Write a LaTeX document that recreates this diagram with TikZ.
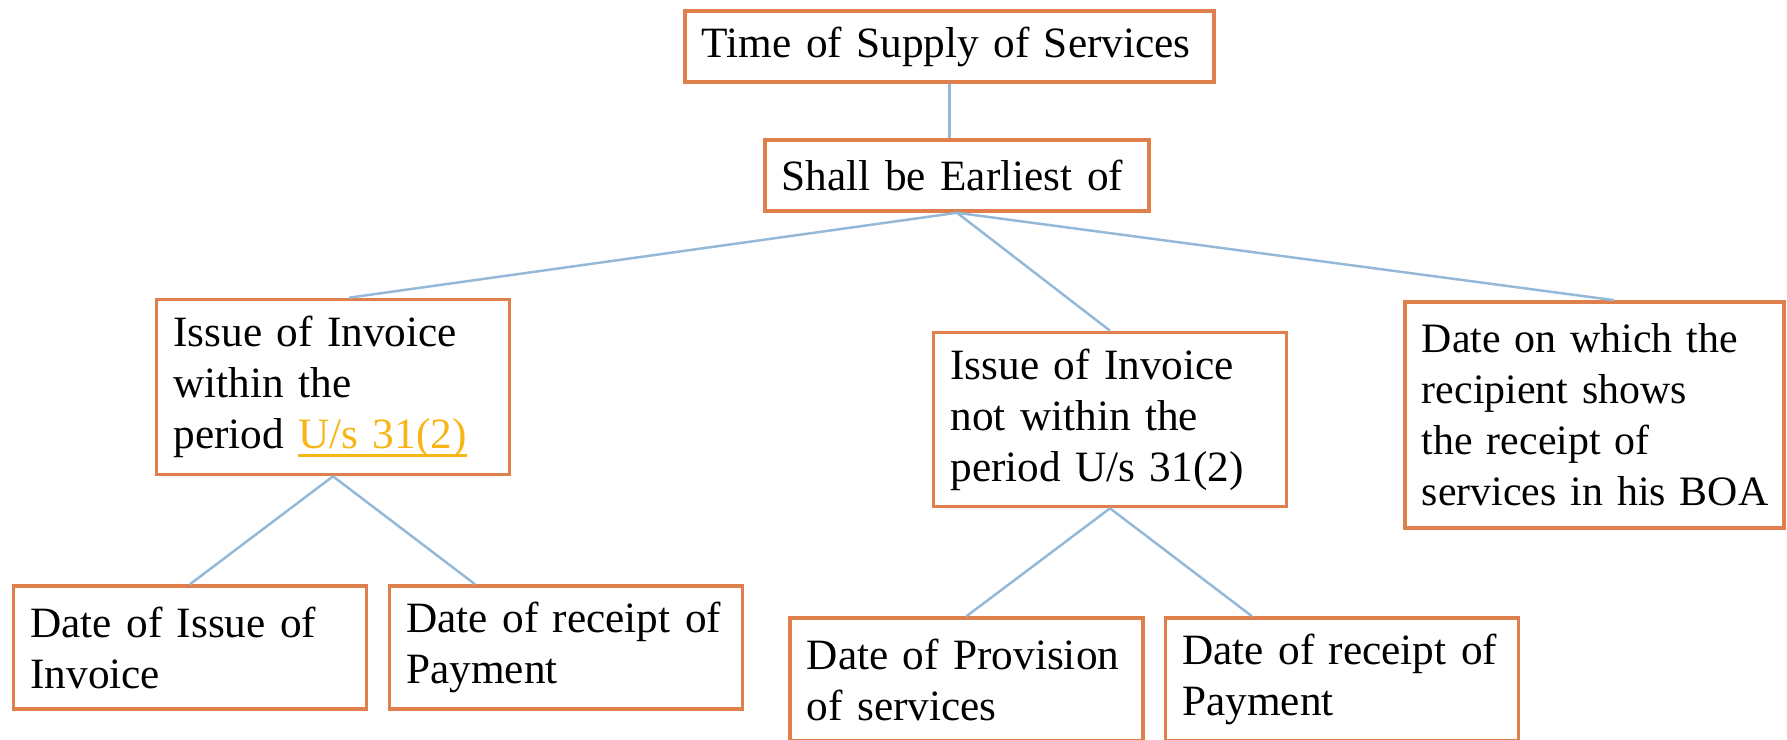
\documentclass[tikz,border=0pt]{standalone}
\usepackage{fontspec}
\setmainfont{Liberation Serif}
\usepackage{tikz}

\definecolor{boxorange}{RGB}{223,128,76}
\definecolor{linkblue}{RGB}{148,184,216}
\definecolor{linkgold}{RGB}{247,181,22}
\newcommand\goldlink[1]{{\color{linkgold}\setbox0\hbox{#1}\rlap{\rule[-2.3pt]{\wd0}{0.9pt}}\box0}}

\begin{document}
\begin{tikzpicture}[
        x=0.01cm, y=-0.01cm,
        box/.style={draw=boxorange, line width=1pt, fill=white, align=left,
            inner xsep=0.17cm, inner ysep=0pt, text width=3.19cm,
            font=\fontsize{12.3}{14.5}\selectfont},
        link/.style={draw=linkblue, line width=0.7pt},
    ]
    \useasboundingbox (0,0) rectangle (1787,739);
    \node[box, text width=4.95cm, minimum height=0.71cm] (supply) at (949.5,46.5) {Time of Supply of Services};
    \node[box, text width=3.50cm, minimum height=0.71cm] (earliest) at (957,175.5) {Shall be Earliest of};
    \node[box, minimum height=1.75cm] (within) at (333,387)
        {Issue of Invoice\\ within the\\ period \goldlink{U/s 31(2)}};
    \node[box, minimum height=1.74cm] (notwithin) at (1110,419.5)
        {Issue of Invoice\\ not within the\\ period U/s 31(2)};
    \node[box, text width=3.45cm, minimum height=2.26cm, font=\fontsize{11.9}{14.5}\selectfont] (boa) at (1594.5,415)
        {Date on which the\\ recipient shows\\ the receipt of\\ \mbox{services in his BOA}};
    \node[box, minimum height=1.23cm] (issuedate) at (190,647.5) {Date of Issue of\\ Invoice};
    \node[box, minimum height=1.23cm] (paymentA) at (566,647.5) {Date of receipt of\\ Payment};
    \node[box, minimum height=1.23cm] (provision) at (966.5,679.5) {Date of Provision\\ of services};
    \node[box, minimum height=1.23cm] (paymentB) at (1342,679.5) {Date of receipt of\\ Payment};

    \draw[link] (supply.south) -- (supply.south |- earliest.north);
    \draw[link] (earliest.south) -- ([xshift=0.16cm]within.north);
    \draw[link] (earliest.south) -- (notwithin.north);
    \draw[link] (earliest.south) -- ([xshift=0.195cm]boa.north);
    \draw[link] (within.south) -- (issuedate.north);
    \draw[link] (within.south) -- ([xshift=-0.91cm]paymentA.north);
    \draw[link] (notwithin.south) -- (provision.north);
    \draw[link] (notwithin.south) -- ([xshift=-0.90cm]paymentB.north);
\end{tikzpicture}
\end{document}
